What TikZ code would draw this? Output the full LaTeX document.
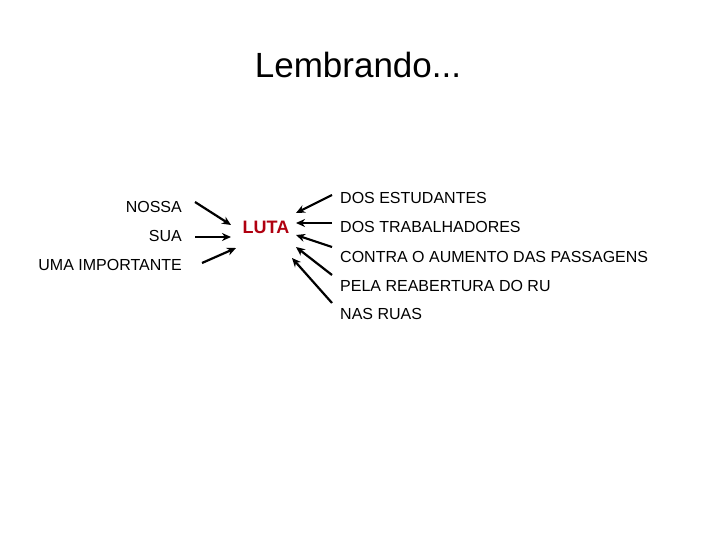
\documentclass[tikz,border=0pt]{standalone}
\usepackage{fontspec}
\setmainfont{Liberation Sans}
\usepackage{tikz}
\usetikzlibrary{arrows.meta}
\definecolor{lutared}{HTML}{B00010}
\tikzset{
  termo/.style={font=\fontsize{16}{18}\selectfont, inner sep=0pt, anchor=base west},
  termoesq/.style={termo, anchor=base east},
  seta/.style={-{Stealth[length=9pt,width=8pt]}, line width=2.2pt}
}

\begin{document}
\begin{tikzpicture}[x=1pt,y=-1pt]
  \useasboundingbox (0,0) rectangle (720,540);

  \node[font=\fontsize{35}{40}\selectfont, inner sep=0pt, anchor=base] (titulo) at (358,78) {Lembrando...};

  % palavra central
  \node[font=\bfseries\fontsize{18}{20}\selectfont, text=lutared, inner sep=0pt] (luta) at (266,227) {LUTA};

  % antes
  \node[termoesq] (nossa) at (182,212) {NOSSA};
  \node[termoesq] (sua) at (182,241) {SUA};
  \node[termoesq] (importante) at (182,270) {UMA IMPORTANTE};

  % depois
  \node[termo] (estudantes) at (340,204) {DOS ESTUDANTES};
  \node[termo] (trabalhadores) at (340,233) {DOS TRABALHADORES};
  \node[termo] (contra) at (340,262) {CONTRA O AUMENTO DAS PASSAGENS};
  \node[termo] (reabertura) at (340,291) {PELA REABERTURA DO RU};
  \node[termo] (ruas) at (340,319) {NAS RUAS};

  % pontas das setas
  \coordinate (s1) at (195,202);  \coordinate (e1) at (231,225);
  \coordinate (s2) at (195,237);  \coordinate (e2) at (231,237);
  \coordinate (s3) at (202,263);  \coordinate (e3) at (236,248);
  \coordinate (s4) at (332,195);  \coordinate (e4) at (296,213);
  \coordinate (s5) at (332,223);  \coordinate (e5) at (296,223);
  \coordinate (s6) at (332,247);  \coordinate (e6) at (296,235);
  \coordinate (s7) at (332,275);  \coordinate (e7) at (296,247);
  \coordinate (s8) at (332,303);  \coordinate (e8) at (292,258);

  \foreach \i in {1,...,8}
    \draw[seta] (s\i) -- (e\i);
\end{tikzpicture}
\end{document}
